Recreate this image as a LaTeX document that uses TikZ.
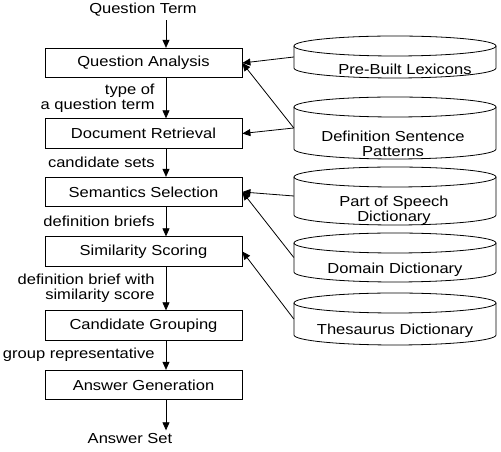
\documentclass[tikz,border=0pt]{standalone}
\usepackage{fontspec}
\setmainfont[FakeStretch=1.14]{Liberation Sans}
\usepackage{tikz}
\usetikzlibrary{calc,arrows.meta}
\newcommand{\drum}[5]{\draw[edge] (294,{#2-10}) -- (294,{#3+10}) arc[start angle=180,end angle=360,x radius=101,y radius=10] -- (496,{#2-10});
  \draw[edge] (395,{#2-10}) ellipse[x radius=101,y radius=10];
  \node[inner sep=0pt,minimum width=202pt,minimum height={#2-#3}] (#1) at (395,{(#2+#3)/2}) {};
  \node[align=center] (#1-txt) at (#4) {#5};}
\tikzset{edge/.style={line width=0.8pt},
  stage/.style={draw,edge,minimum width=197pt,minimum height=29.5pt,inner sep=0pt},
  flow/.style={edge,-{Triangle[length=8pt,width=7pt]}},
  lbl/.style={anchor=east,xshift=-10pt,inner sep=1pt,align=right}}

\begin{document}
\begin{tikzpicture}[x=1pt,y=1pt,font=\fontsize{14.5}{15.5}\selectfont]
\useasboundingbox (0,0) rectangle (501,452);
\coordinate (spine) at (166,0);
\node (qt) at (143,442) {Question Term};
\node[stage] (qa) at (143.5,389) {Question Analysis};
\node[stage] (dr) at (143.5,318.5) {Document Retrieval};
\node[stage] (ss) at (143.5,260) {Semantics Selection};
\node[stage] (sim) at (143.5,200.5) {Similarity Scoring};
\node[stage] (cg) at (143.5,126.5) {Candidate Grouping};
\node[stage] (ag) at (143.5,67) {Answer Generation};
\node (as) at (130,13) {Answer Set};
\drum{pbl}{416}{374}{405,383}{Pre-Built Lexicons}
\drum{dsp}{355}{293}{393,308}{Definition Sentence\\Patterns}
\drum{pos}{285}{227}{394,241.5}{Part of Speech\\Dictionary}
\drum{dom}{219}{170}{395,182}{Domain Dictionary}
\drum{the}{159}{107}{395,121}{Thesaurus Dictionary}
\draw[flow] (qt.south -| spine) -- (qa.north -| spine);
\draw[flow] (qa.south -| spine) -- node[lbl] {type of\\a question term} (dr.north -| spine);
\draw[flow] (dr.south -| spine) -- node[lbl] {candidate sets} (ss.north -| spine);
\draw[flow] (ss.south -| spine) -- node[lbl] {definition briefs} (sim.north -| spine);
\draw[flow] (sim.south -| spine) -- node[lbl] {definition brief with\\similarity score} (cg.north -| spine);
\draw[flow] (cg.south -| spine) -- node[lbl] {group representative} (ag.north -| spine);
\draw[flow] (ag.south -| spine) -- (as.north -| spine);
\draw[flow] (pbl.west) -- (qa.east);
\draw[flow] (dsp.west) -- (qa.east);
\draw[flow] (dsp.west) -- (dr.east);
\draw[flow] (pos.west) -- (ss.east);
\draw[flow] (dom.west) -- (ss.east);
\draw[flow] (the.west) -- (sim.east);
\end{tikzpicture}
\end{document}
